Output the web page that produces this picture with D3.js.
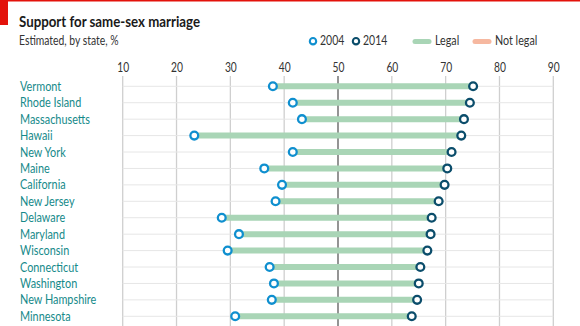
<!DOCTYPE html>
<html>
<head>
<meta charset="utf-8">
<script src="https://cdn.jsdelivr.net/npm/d3@7"></script>
<style>
  body { margin: 0; background: #fff; }
  svg { display: block; font-family: Lato, "Open Sans", sans-serif; }
</style>
</head>
<body>
<div id="chart"></div>
<script>
const states = ['Vermont', 'Rhode Island', 'Massachusetts', 'Hawaii', 'New York', 'Maine',
  'California', 'New Jersey', 'Delaware', 'Maryland', 'Wisconsin', 'Connecticut',
  'Washington', 'New Hampshire', 'Minnesota'];
const support2004 = [37.9, 41.6, 43.3, 23.3, 41.6, 36.3, 39.6, 38.4, 28.4, 31.6, 29.5, 37.3, 38.1, 37.7, 30.9];
const support2014 = [75.1, 74.5, 73.4, 72.9, 71.1, 70.3, 69.8, 68.7, 67.4, 67.2, 66.6, 65.3, 65.0, 64.7, 63.7];
const legalStatus = ['Legal', 'Legal', 'Legal', 'Legal', 'Legal', 'Legal', 'Legal', 'Legal',
  'Legal', 'Legal', 'Legal', 'Legal', 'Legal', 'Legal', 'Legal'];
const xTicks = [10, 20, 30, 40, 50, 60, 70, 80, 90];

const data = states.map((s, i) => ({state: s, y04: support2004[i], y14: support2014[i], status: legalStatus[i]}));

const W = 580, H = 326;
const c04 = '#0f8fcf', c14 = '#0b4d6b', cLegal = '#a9d5b6', cNot = '#f6b8a0';

const svg = d3.select('#chart').append('svg')
  .attr('width', W)
  .attr('height', H);

// narrow text: the original face is condensed, so squeeze Lato horizontally
function label(g, tx, ty, size, sx, str) {
  return g.append('text')
    .attr('transform', `translate(${tx},${ty}) scale(${sx},1)`)
    .attr('font-size', size)
    .text(str);
}

// red header marks
svg.append('rect').attr('x', 0).attr('y', 0).attr('width', W).attr('height', 1.5).attr('fill', '#e3120b');
svg.append('rect').attr('x', 0).attr('y', 0).attr('width', 8).attr('height', 25).attr('fill', '#e3120b');

label(svg, 19, 27, 16, 0.83, 'Support for same-sex marriage')
  .attr('font-weight', 700).attr('fill', '#1a1a1a');
label(svg, 19, 44.5, 12.5, 0.83, 'Estimated, by state, %')
  .attr('fill', '#333');

// legend
const legend = svg.append('g').attr('fill', '#333');
[[313, '2004', c04], [356, '2014', c14]].forEach(([lx, txt, col]) => {
  legend.append('circle').attr('cx', lx).attr('cy', 41.2).attr('r', 3.2)
    .attr('fill', '#fff').attr('stroke', col).attr('stroke-width', 2.1);
  label(legend, lx + 7, 45.3, 12.5, 0.84, txt);
});
[[413, 'Legal', cLegal], [473, 'Not legal', cNot]].forEach(([lx, txt, col]) => {
  legend.append('line').attr('x1', lx + 2).attr('x2', lx + 16).attr('y1', 41.5).attr('y2', 41.5)
    .attr('stroke', col).attr('stroke-width', 5).attr('stroke-linecap', 'round');
  label(legend, lx + 22, 45.3, 12.5, 0.86, txt);
});

const x = d3.scaleLinear()
  .domain([10, 90])
  .range([122.7, 553.3]);

const y = d3.scalePoint()
  .domain(states)
  .range([86.3, 316.3]);

// top axis labels and vertical grid
const xAxis = svg.append('g')
  .attr('transform', 'translate(0,71.5)')
  .call(d3.axisTop(x).tickValues(xTicks).tickSize(0).tickPadding(0));
xAxis.select('.domain').remove();
xAxis.selectAll('text')
  .attr('font-family', 'Lato, "Open Sans", sans-serif')
  .attr('font-size', 12.5)
  .attr('transform', 'scale(0.82,1)')
  .attr('fill', '#333');

svg.append('g').selectAll('line')
  .data(xTicks)
  .enter().append('line')
    .attr('x1', d => x(d)).attr('x2', d => x(d))
    .attr('y1', 76).attr('y2', H)
    .attr('stroke', d => d === 50 ? '#7a7a7a' : '#cfcfcf')
    .attr('stroke-width', d => d === 50 ? 1.6 : 1.3);

// horizontal row lines
svg.append('g').selectAll('line')
  .data(data)
  .enter().append('line')
    .attr('x1', x(10)).attr('x2', x(90))
    .attr('y1', d => y(d.state)).attr('y2', d => y(d.state))
    .attr('stroke', '#e6e6e6').attr('stroke-width', 1);

// state labels
svg.append('g').selectAll('text')
  .data(data)
  .enter().append('text')
    .attr('transform', d => `translate(20,${y(d.state) + 4.5}) scale(0.87,1)`)
    .attr('font-size', 12.5)
    .attr('fill', '#168a8a')
    .text(d => d.state);

// bars
svg.append('g').selectAll('line')
  .data(data)
  .enter().append('line')
    .attr('x1', d => x(d.y04)).attr('x2', d => x(d.y14))
    .attr('y1', d => y(d.state)).attr('y2', d => y(d.state))
    .attr('stroke', d => d.status === 'Legal' ? cLegal : cNot)
    .attr('stroke-width', 6);

// dots
const dots = svg.append('g');
dots.selectAll('.d04')
  .data(data)
  .enter().append('circle')
    .attr('class', 'd04')
    .attr('cx', d => x(d.y04)).attr('cy', d => y(d.state)).attr('r', 3.9)
    .attr('fill', '#fff').attr('stroke', c04).attr('stroke-width', 2.3);
dots.selectAll('.d14')
  .data(data)
  .enter().append('circle')
    .attr('class', 'd14')
    .attr('cx', d => x(d.y14)).attr('cy', d => y(d.state)).attr('r', 3.9)
    .attr('fill', '#fff').attr('stroke', c14).attr('stroke-width', 2.3);
</script>
</body>
</html>
